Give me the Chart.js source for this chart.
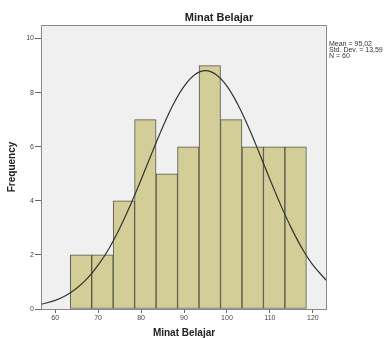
<!DOCTYPE html>
<html>
<head>
<meta charset="utf-8">
<script src="https://cdn.jsdelivr.net/npm/chart.js@4/dist/chart.umd.min.js"></script>
<style>
  html, body { margin: 0; padding: 0; background: #fff; }
  #wrap { width: 390px; height: 338px; }
</style>
</head>
<body>
<div id="wrap"><canvas id="histChart" width="390" height="338"></canvas></div>
<script>
// histogram bins (centres, width 5) and counts
let binCenters = [66, 71, 76, 81, 86, 91, 96, 101, 106, 111, 116];
let counts = [2, 2, 4, 7, 5, 6, 9, 7, 6, 6, 6];

// normal curve
let curveX = [56.7, 60, 62.5, 65, 67.5, 70, 72.5, 75, 77.5, 80, 82.5, 85, 87.5, 90, 92.5, 95,
              97.5, 100, 102.5, 105, 107.5, 110, 112.5, 115, 117.5, 120, 123.3];
let curveY = [0.17, 0.32, 0.5, 0.77, 1.13, 1.62, 2.23, 2.98, 3.84, 4.78, 5.76, 6.71, 7.56, 8.23, 8.66, 8.81,
              8.66, 8.24, 7.57, 6.73, 5.78, 4.8, 3.85, 2.99, 2.24, 1.63, 1.03];

let xTicks = [60, 70, 80, 90, 100, 110, 120];
let yTicks = [0, 2, 4, 6, 8, 10];
let statsLines = ["Mean = 95,02", "Std. Dev. = 13,59", "N = 60"];

let FONT = "'Liberation Sans', Arial, sans-serif";

let plotFrame = {
    id: 'plotFrame',
    beforeDatasetsDraw(chart) {
        let a = chart.chartArea, c = chart.ctx;
        c.save();
        c.fillStyle = '#f0f0f0';
        c.fillRect(a.left, a.top, a.right - a.left, a.bottom - a.top);
        c.restore();
    },
    afterDraw(chart) {
        let a = chart.chartArea, c = chart.ctx;
        c.save();
        c.strokeStyle = '#888';
        c.lineWidth = 1;
        c.strokeRect(a.left + 0.5, a.top + 0.5, a.right - a.left - 1, a.bottom - a.top);
        c.fillStyle = '#222';
        c.font = 'bold 11px ' + FONT;
        c.textAlign = 'center';
        c.textBaseline = 'alphabetic';
        c.fillText('Minat Belajar', 219, 21);
        c.fillStyle = '#333';
        c.font = '7px ' + FONT;
        c.textAlign = 'left';
        statsLines.forEach((t, i) => c.fillText(t, 329, 46 + i * 6));
        c.restore();
    }
};

let ctx = document.getElementById('histChart').getContext('2d');
new Chart(ctx, {
    type: 'bar',
    data: {
        datasets: [{
            type: 'line',
            data: curveX.map((x, i) => ({x: x, y: curveY[i]})),
            borderColor: '#333',
            borderWidth: 1.2,
            pointRadius: 0,
            tension: 0.4,
            fill: false
        }, {
            type: 'bar',
            data: binCenters.map((x, i) => ({x: x, y: counts[i]})),
            backgroundColor: '#d3ce97',
            borderColor: '#55554a',
            borderWidth: 1,
            borderSkipped: false,
            barPercentage: 1,
            categoryPercentage: 1
        }]
    },
    options: {
        animation: false,
        responsive: false,
        layout: { padding: { left: 7, right: 63, top: 25, bottom: 0 } },
        plugins: { legend: { display: false }, tooltip: { enabled: false } },
        scales: {
            x: {
                type: 'linear',
                offset: false,
                min: 56.7,
                max: 123.3,
                afterBuildTicks: s => { s.ticks = xTicks.map(v => ({value: v})); },
                afterFit: s => { s.height = 29; },
                grid: { display: true, offset: false, drawOnChartArea: false, tickLength: 4, color: '#666' },
                border: { display: false },
                ticks: { color: '#444', font: { family: FONT, size: 7 }, padding: 1, maxRotation: 0 },
                title: { display: true, text: 'Minat Belajar', color: '#222',
                         font: { family: FONT, size: 10, weight: 'bold', lineHeight: 1 }, padding: 0 }
            },
            y: {
                min: 0,
                max: 10.5,
                afterBuildTicks: s => { s.ticks = yTicks.map(v => ({value: v})); },
                afterFit: s => { s.width = 34; },
                grid: { display: true, drawOnChartArea: false, tickLength: 6, color: '#666' },
                border: { display: false },
                ticks: { color: '#444', font: { family: FONT, size: 7 }, padding: 1 },
                title: { display: true, text: 'Frequency', color: '#222',
                         font: { family: FONT, size: 10, weight: 'bold', lineHeight: 1 }, padding: 0 }
            }
        }
    },
    plugins: [plotFrame]
});
</script>
</body>
</html>
